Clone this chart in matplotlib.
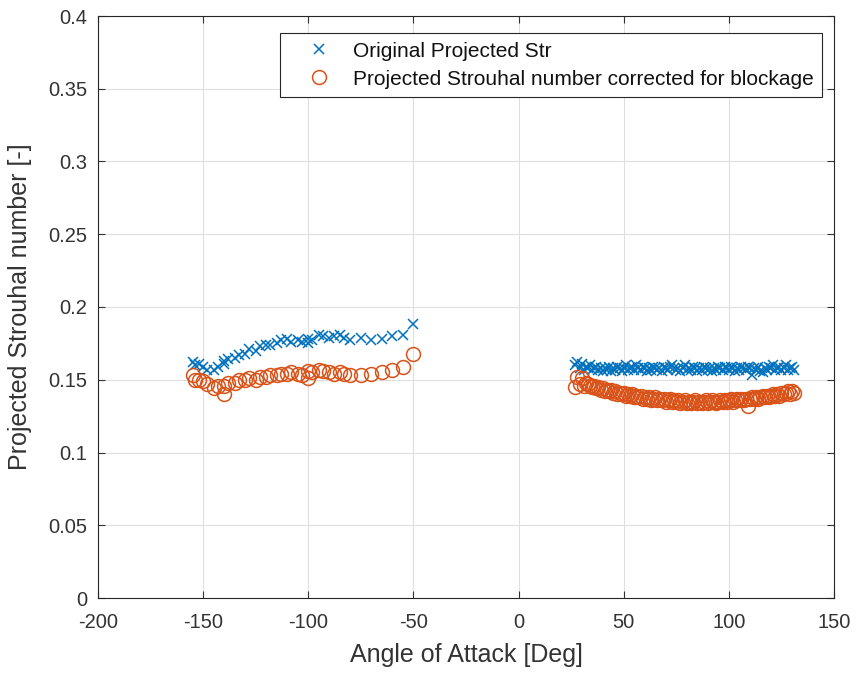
import matplotlib
matplotlib.use("Agg")
import matplotlib.pyplot as plt
import numpy as np

plt.rcParams['font.family'] = ['Liberation Sans', 'DejaVu Sans']
plt.rcParams['axes.unicode_minus'] = False

angles_left = [-155, -154, -152, -150, -148, -145, -143, -140, -140, -138, -135, -133, -130, -128,
               -125, -123, -120, -118, -115, -113, -110, -108, -105, -103, -100, -100, -98, -95,
               -93, -90, -88, -85, -83, -80, -75, -70, -65, -60, -55, -50]
str_orig_left = [0.162, 0.160, 0.161, 0.159, 0.157, 0.157, 0.159, 0.161, 0.163, 0.164, 0.165, 0.167,
                 0.168, 0.171, 0.170, 0.173, 0.174, 0.174, 0.175, 0.177, 0.178, 0.176, 0.177, 0.176,
                 0.175, 0.178, 0.177, 0.181, 0.180, 0.179, 0.180, 0.181, 0.179, 0.177, 0.179, 0.177,
                 0.178, 0.180, 0.181, 0.188]
str_corr_left = [0.153, 0.150, 0.150, 0.149, 0.147, 0.144, 0.146, 0.140, 0.146, 0.148, 0.148, 0.150,
                 0.150, 0.151, 0.150, 0.152, 0.152, 0.153, 0.153, 0.154, 0.154, 0.155, 0.154, 0.153,
                 0.151, 0.156, 0.155, 0.157, 0.156, 0.155, 0.154, 0.155, 0.154, 0.153, 0.153, 0.154,
                 0.155, 0.157, 0.159, 0.168]

angles_right = list(range(27, 132))
str_orig_right = [0.160, 0.162, 0.158, 0.161, 0.157, 0.159, 0.158, 0.160, 0.157, 0.158,
                  0.159, 0.157, 0.158, 0.156, 0.158, 0.157, 0.159, 0.156, 0.158, 0.157,
                  0.159, 0.158, 0.156, 0.158, 0.160, 0.157, 0.158, 0.159, 0.157, 0.160,
                  0.158, 0.157, 0.159, 0.158, 0.156, 0.158, 0.157, 0.159, 0.158, 0.157,
                  0.158, 0.156, 0.159, 0.158, 0.157, 0.159, 0.160, 0.158, 0.157, 0.158,
                  0.156, 0.158, 0.160, 0.157, 0.158, 0.157, 0.159, 0.158, 0.156, 0.158,
                  0.157, 0.159, 0.158, 0.157, 0.158, 0.156, 0.158, 0.157, 0.159, 0.158,
                  0.157, 0.159, 0.158, 0.157, 0.159, 0.158, 0.156, 0.158, 0.157, 0.159,
                  0.158, 0.157, 0.159, 0.158, 0.153, 0.158, 0.157, 0.159, 0.156, 0.155,
                  0.158, 0.157, 0.159, 0.158, 0.160, 0.157, 0.158, 0.159, 0.157, 0.158,
                  0.160, 0.157, 0.158, 0.159, 0.157]
str_corr_right = [0.145, 0.152, 0.147, 0.151, 0.146, 0.148, 0.147, 0.146, 0.145, 0.146,
                  0.144, 0.145, 0.143, 0.144, 0.142, 0.143, 0.142, 0.143, 0.141, 0.142,
                  0.140, 0.141, 0.140, 0.141, 0.139, 0.140, 0.139, 0.140, 0.138, 0.139,
                  0.138, 0.139, 0.137, 0.138, 0.137, 0.138, 0.136, 0.137, 0.138, 0.136,
                  0.137, 0.136, 0.137, 0.135, 0.136, 0.137, 0.135, 0.136, 0.135, 0.136,
                  0.134, 0.135, 0.136, 0.134, 0.135, 0.134, 0.135, 0.136, 0.134, 0.135,
                  0.134, 0.135, 0.136, 0.134, 0.135, 0.136, 0.135, 0.134, 0.135, 0.136,
                  0.135, 0.136, 0.135, 0.136, 0.137, 0.135, 0.136, 0.137, 0.136, 0.137,
                  0.136, 0.137, 0.132, 0.137, 0.138, 0.137, 0.138, 0.137, 0.138, 0.139,
                  0.138, 0.139, 0.138, 0.139, 0.140, 0.139, 0.140, 0.139, 0.141, 0.140,
                  0.141, 0.142, 0.140, 0.142, 0.141]

angles = angles_left + angles_right
str_orig = str_orig_left + str_orig_right
str_corr = str_corr_left + str_corr_right

blue = '#0072BD'
orange = '#D95319'
txt = '#333333'

fig = plt.figure(figsize=(8.56, 6.74), dpi=100)
ax = fig.add_axes([98 / 856, 76 / 674, 736 / 856, 582 / 674])

ax.plot(angles, str_orig, linestyle='none', marker='x', color=blue, markersize=7,
        markeredgewidth=1.1, label='Original Projected Str')
ax.plot(angles, str_corr, linestyle='none', marker='o', color=orange, markersize=10,
        markerfacecolor='none', markeredgewidth=1.1, label='Projected Strouhal number corrected for blockage')

ax.set_xlim(-200, 150)
ax.set_ylim(0, 0.4)
ax.set_xticks(np.arange(-200, 151, 50))
ax.set_yticks(np.arange(0, 0.401, 0.05))
ax.set_yticklabels(['0', '0.05', '0.1', '0.15', '0.2', '0.25', '0.3', '0.35', '0.4'])
ax.grid(True, color='#DFDFDF', linewidth=0.8)
ax.set_axisbelow(True)
ax.tick_params(direction='in', labelsize=14.5, colors=txt, length=5, top=True, right=True,
               labeltop=False, labelright=False)
ax.tick_params(axis='x', pad=11)
ax.tick_params(axis='y', pad=8)
for s in ax.spines.values():
    s.set_color('#262626')
    s.set_linewidth(0.8)

ax.set_xlabel('Angle of Attack [Deg]', fontsize=18, color=txt, labelpad=8)
ax.set_ylabel('Projected Strouhal number [-]', fontsize=18, color=txt, labelpad=11)

leg = ax.legend(loc='upper right', bbox_to_anchor=(0.984, 0.971), fontsize=15,
                frameon=True, fancybox=False, edgecolor='#262626', framealpha=1,
                borderpad=0.42, handlelength=2.92, handletextpad=0.17, labelspacing=0.43,
                borderaxespad=0)
leg.get_frame().set_linewidth(0.8)
for t in leg.get_texts():
    t.set_color('#111111')

fig.savefig('out.png', dpi=100)
